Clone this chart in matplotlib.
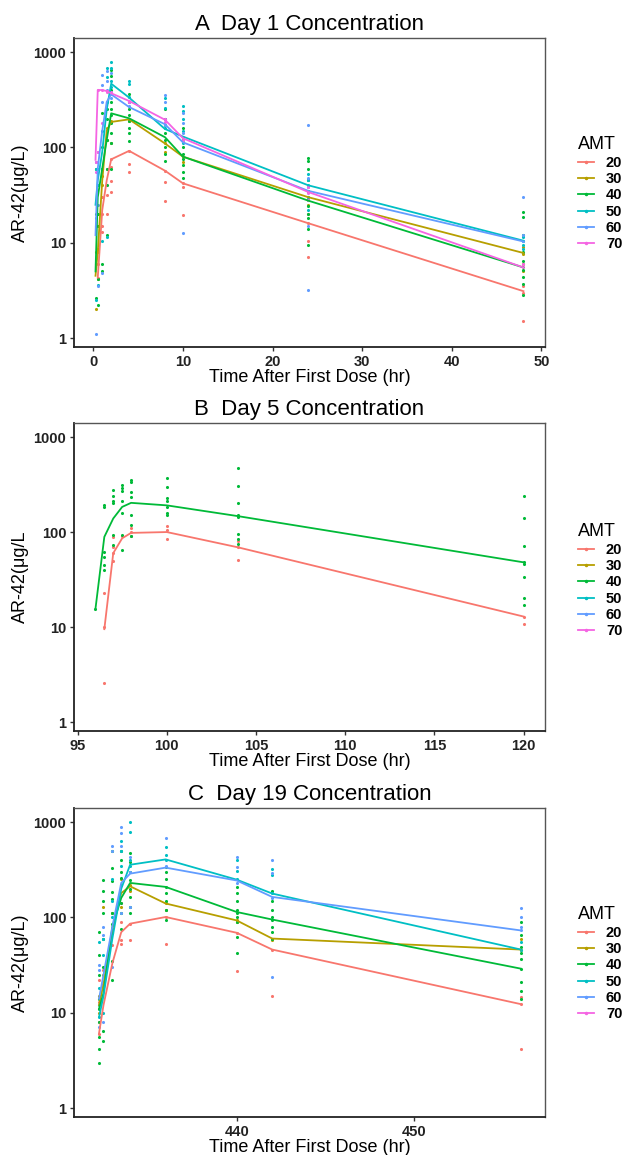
import matplotlib
matplotlib.use('Agg')
import matplotlib.pyplot as plt
from matplotlib.lines import Line2D
import numpy as np

plt.rcParams['font.family'] = ['Liberation Sans', 'DejaVu Sans']

amts = [20, 30, 40, 50, 60, 70]
colors = ['#F8766D', '#B79F00', '#00BA38', '#00BFC4', '#619CFF', '#F564E3']

# ---- Day 1 ----
A_times = [0.25, 0.5, 1, 1.5, 2, 4, 8, 10, 24, 48]
A_lines = {
    20: [None, 4.3, 22, 45, 75, 92, 57, 42, 16, 3.1],
    30: [4.5, 8, 45, 150, 185, 197, 110, 80, 30, 7.8],
    40: [5, 30, 60, 120, 228, 202, 128, 80, 27.6, 5.5],
    50: [25, 45, 90, 250, 466, 333, 156, 130, 40, 10.5],
    60: [12, 60, 150, 300, 360, 265, 175, 113, 35, 10.3],
    70: [74, 400, 400, 390, 370, 307, 195, 125, 34, 5.5],
}
A_obs = {
    20: [[6, 15], [4.3, 6, 8], [30, 20, 15, 13], [60, 32, 20], [75, 62, 44, 34],
         [92, 67, 55], [57, 43, 27.5], [42, 38, 19.5], [10.5, 7.1, 16, 20], [3.0, 1.5, 3.5]],
    30: [[2.0, 8], [8.5, 4.2], [50, 40], [160, 120], [190, 185, 110],
         [195, 190], [110, 90], [80, 70], [30, 25, 35], [7.6, 6.0, 5.0, 9]],
    40: [[60, 20, 2.6], [20, 15, 4.2, 2.2], [230, 100, 60, 6, 5], [250, 200, 120, 60, 40, 12],
         [650, 560, 400, 300, 250, 220, 180, 140, 110, 60],
         [360, 300, 250, 220, 190, 160, 140, 117],
         [250, 200, 170, 140, 120, 100, 85, 72],
         [160, 120, 100, 85, 75, 65, 55, 48],
         [78, 72, 60, 45, 35, 28, 24, 20, 18, 14, 9.5],
         [21, 18.5, 12, 8, 6.5, 5.2, 4.4, 3.7, 2.8]],
    50: [[60, 2.5, 18], [60, 40, 3.6], [150, 60, 10.5], [680, 550, 300, 11.5], [785, 680, 500, 430],
         [497, 460, 340], [330, 260, 200, 160], [272, 240, 200, 150, 110],
         [52, 45, 40, 30, 22], [11.5, 10.5, 9.5, 8.5]],
    60: [[1.1, 70], [90, 25, 3.5], [580, 450, 300, 4.8], [630, 500, 400], [600, 380, 330],
         [270, 300], [352, 300, 170], [230, 180, 140, 12.7], [172, 48, 38, 15, 3.2], [30, 10.5, 12]],
    70: [[70, 55], [400, 90], [400, 180], [390, 380], [380, 360],
         [310, 300], [200, 185], [130, 120], [33, 38, 28], [5.5, 6]],
}

# ---- Day 5 ----
B_times = [96, 96.5, 97, 97.5, 98, 100, 104, 120]
B_lines = {
    20: [None, 9.5, 60, 86, 98, 100, 69, 12.9],
    40: [15.4, 89, 139, 184, 203, 191, 147, 48],
}
B_obs = {
    20: [[], [23, 10, 2.6], [88, 70, 60, 50], [90], [110, 100, 90],
         [115, 105, 85], [80, 70, 50.5], [12.9, 10.7]],
    40: [[15.4], [195, 185, 62, 55, 45, 40], [275, 240, 210, 200, 92, 73],
         [310, 290, 270, 210, 160, 92, 64], [350, 335, 265, 235, 150, 118, 90],
         [375, 300, 230, 210, 185, 160, 150], [470, 303, 203, 150, 145, 95, 85, 75],
         [242, 140, 72, 48, 46, 34, 20, 17]],
}

# ---- Day 19 ----
C_times = [432.25, 432.5, 433, 433.5, 434, 436, 440, 442, 456]
C_lines = {
    20: [6.1, 12, 33, 70, 86, 101, 69, 46, 12.3],
    30: [12, 20, 75, 180, 212, 140, 93, 60, 46],
    40: [11, 16, 80, 160, 230, 209, 114, 95, 29],
    50: [9, 15, 60, 200, 357, 406, 249, 178, 46],
    60: [14, 25, 80, 230, 288, 333, 244, 164, 73],
}
C_obs = {
    20: [[22, 13, 8, 6], [28, 20], [75, 51], [140, 90, 58, 52], [86, 58],
         [100, 52], [68, 27.5], [46, 15], [14.5, 12.3, 4.2]],
    30: [[15, 10], [130, 25], [110, 75], [250, 130], [220, 190],
         [140, 120], [95, 90], [60, 58], [60, 46]],
    40: [[70, 40, 25, 14, 11, 8, 5.5, 4.2, 3.0], [245, 190, 150, 110, 60, 30, 6.5, 5.0],
         [500, 330, 240, 185, 155, 110, 85, 68, 35, 22], [500, 400, 300, 260, 220, 140, 110, 75],
         [470, 380, 300, 245, 200, 165, 130, 110], [340, 300, 250, 210, 180, 150, 120, 93],
         [210, 180, 150, 120, 110, 100, 90, 62, 42], [190, 150, 120, 100, 95, 80, 70, 60],
         [90, 65, 49, 42, 37, 29, 21, 17, 14]],
    50: [[55, 18, 12, 9], [60, 40, 10], [250, 150, 100], [640, 500, 350], [1000, 790, 400, 350],
         [550, 450, 400], [400, 310, 250], [320, 280, 180], [46, 55]],
    60: [[32, 28, 7], [80, 65, 8], [560, 500, 30], [880, 760, 560, 110], [430, 300, 130],
         [680, 350], [430, 340, 230], [405, 290, 160, 23.7], [127, 100, 80, 73]],
}


def panel(ax, times, lines, obs, title, ylabel, xlim, xticks):
    for amt, col in zip(amts, colors):
        if amt not in obs:
            continue
        xs, ys = [], []
        for t, vals in zip(times, obs[amt]):
            xs += [t] * len(vals)
            ys += vals
        ax.scatter(xs, ys, s=5, color=col, linewidths=0, zorder=2)
    for amt, col in zip(amts, colors):
        if amt not in lines:
            continue
        pts = [(t, v) for t, v in zip(times, lines[amt]) if v is not None]
        ax.plot([p[0] for p in pts], [p[1] for p in pts], color=col, lw=1.3, zorder=3)
    ax.set_yscale('log')
    ax.set_ylim(0.805, 1406)
    ax.set_yticks([1, 10, 100, 1000])
    ax.set_yticklabels(['1', '10', '100', '1000'])
    ax.yaxis.set_minor_locator(matplotlib.ticker.NullLocator())
    ax.set_xlim(*xlim)
    ax.set_xticks(xticks)
    ax.set_xticklabels([str(x) for x in xticks])
    ax.tick_params(direction='out', length=3, width=1, colors='#333333',
                   labelsize=10.5, labelcolor='#222222', pad=2.5)
    for lab in ax.get_xticklabels() + ax.get_yticklabels():
        lab.set_fontweight('bold')
    for side in ['left', 'bottom']:
        ax.spines[side].set_color('#222222')
        ax.spines[side].set_linewidth(1.3)
    for side in ['top', 'right']:
        ax.spines[side].set_color('#555555')
        ax.spines[side].set_linewidth(1.0)
    ax.set_title(title, fontsize=16, pad=6)
    ax.set_xlabel('Time After First Dose (hr)', fontsize=13, labelpad=0)
    ax.set_ylabel(ylabel, fontsize=13, labelpad=3)


fig = plt.figure(figsize=(6.24, 11.55), dpi=100)
W, H = 624.0, 1155.0
axA = fig.add_axes([74 / W, 1 - 347 / H, 471 / W, 309 / H])
axB = fig.add_axes([74 / W, 1 - 731 / H, 471 / W, 308 / H])
axC = fig.add_axes([74 / W, 1 - 1117 / H, 471 / W, 309 / H])

panel(axA, A_times, A_lines, A_obs, 'A  Day 1 Concentration', 'AR-42(\u03bcg/L)',
      (-2.15, 50.4), [0, 10, 20, 30, 40, 50])
panel(axB, B_times, B_lines, B_obs, 'B  Day 5 Concentration', 'AR-42(\u03bcg/L',
      (94.8, 121.2), [95, 100, 105, 110, 115, 120])
panel(axC, C_times, C_lines, C_obs, 'C  Day 19 Concentration', 'AR-42(\u03bcg/L)',
      (430.84, 457.36), [440, 450])

handles = [Line2D([], [], color=c, lw=1.3, marker='.', markersize=3) for c in colors]
for ax, top in [(axA, 129), (axB, 516), (axC, 899)]:
    leg = ax.legend(handles, [str(a) for a in amts], title='AMT', loc='upper left',
                    bbox_to_anchor=(571 / W, 1 - top / H), bbox_transform=fig.transFigure,
                    frameon=False, borderpad=0, labelspacing=0.16, handlelength=1.05,
                    handletextpad=0.85, fontsize=10.5, title_fontsize=13,
                    alignment='left')
    for t in leg.get_texts():
        t.set_fontweight('bold')

plt.savefig('out.png', dpi=100)
